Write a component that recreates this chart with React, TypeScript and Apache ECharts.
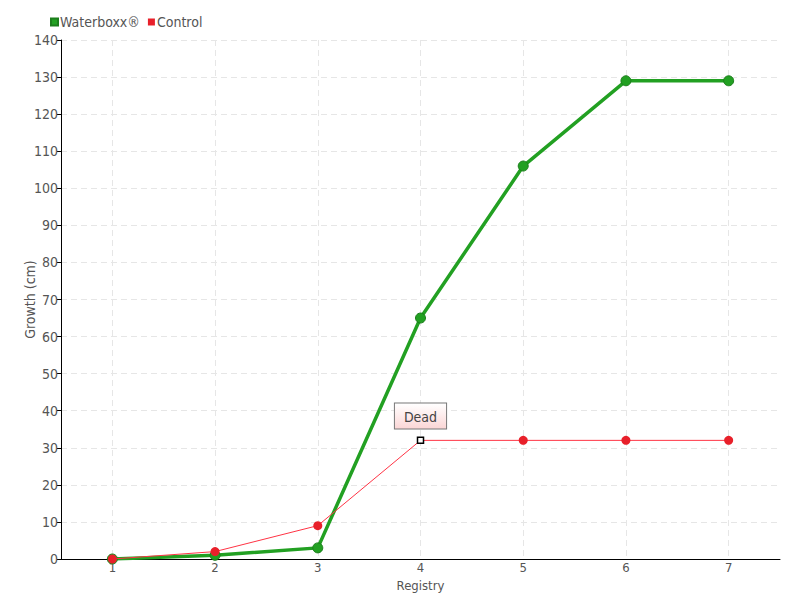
import React, { useEffect, useRef } from "react";
import * as echarts from "echarts";

const categories = ["1", "2", "3", "4", "5", "6", "7"];
const waterboxx = [0, 1, 3, 65, 106, 129, 129];
const control = [0, 2, 9, 32, 32, 32, 32];
const deadIndex = 3;
const deadLabel = "Dead";

const FONT = "'DejaVu Sans Condensed', 'Roboto', sans-serif";

export default function App() {
  const ref = useRef<HTMLDivElement>(null);
  useEffect(() => {
    const chart = echarts.init(ref.current!, null, { renderer: "svg" });
    chart.setOption({
      animation: false,
      backgroundColor: "#fff",
      textStyle: { fontFamily: FONT },
      legend: {
        left: 45,
        top: 10,
        icon: "rect",
        itemWidth: 7,
        itemHeight: 7,
        itemGap: 8,
        textStyle: { fontFamily: FONT, fontSize: 14, color: "#555", padding: [0, 0, 0, -3] },
        data: ["Waterboxx®", "Control"],
      },
      grid: { left: 61, right: 20, top: 40, bottom: 41 },
      xAxis: {
        type: "category",
        data: categories,
        boundaryGap: true,
        name: "Registry",
        nameLocation: "middle",
        nameGap: 20,
        nameMoveOverlap: false,
        nameTextStyle: { fontFamily: FONT, fontSize: 13, color: "#555", lineHeight: 13 },
        axisLine: { lineStyle: { color: "#000" } },
        axisTick: { alignWithLabel: true, inside: true, length: 4, lineStyle: { color: "#000" } },
        axisLabel: { fontFamily: FONT, fontSize: 13, color: "#555", margin: 2, lineHeight: 13 },
        splitLine: {
          show: true,
          alignWithLabel: true,
          lineStyle: { color: "#e6e6e6", type: [6, 4], width: 1 },
        },
      },
      yAxis: {
        type: "value",
        min: 0,
        max: 140,
        interval: 10,
        name: "Growth (cm)",
        nameLocation: "middle",
        nameGap: 24,
        nameMoveOverlap: false,
        nameTextStyle: { fontFamily: FONT, fontSize: 14, color: "#555" },
        axisLine: { show: true, lineStyle: { color: "#000" } },
        axisTick: { show: true, length: 4, lineStyle: { color: "#000" } },
        axisLabel: { fontFamily: FONT, fontSize: 14, color: "#555", margin: 3 },
        splitLine: { lineStyle: { color: "#e6e6e6", type: [6, 4], width: 1 } },
      },
      series: [
        {
          name: "Waterboxx®",
          type: "line",
          data: waterboxx,
          color: "#22a022",
          symbol: "circle",
          symbolSize: 10,
          lineStyle: { width: 3.5, color: "#22a022" },
          itemStyle: { color: "#22a022", borderColor: "#1c7e1c", borderWidth: 1 },
          z: 2,
        },
        {
          name: "Control",
          type: "line",
          data: control.map((v, i) =>
            i === deadIndex
              ? {
                  value: v,
                  symbol: "rect",
                  symbolSize: 6,
                  itemStyle: { color: "#fff", borderColor: "#000", borderWidth: 1.5 },
                  label: {
                    show: true,
                    position: "top",
                    distance: 8,
                    formatter: deadLabel,
                    fontFamily: FONT,
                    fontSize: 14,
                    color: "#444",
                    padding: [6, 9, 5, 9],
                    borderColor: "#777",
                    borderWidth: 1,
                    backgroundColor: {
                      type: "linear",
                      x: 0,
                      y: 0,
                      x2: 0,
                      y2: 1,
                      colorStops: [
                        { offset: 0, color: "#ffffff" },
                        { offset: 1, color: "#fbd6d6" },
                      ],
                    },
                  },
                }
              : v
          ),
          color: "#e8202a",
          symbol: "circle",
          symbolSize: 9,
          lineStyle: { width: 1, color: "#ff3344" },
          itemStyle: { color: "#e8202a" },
          z: 3,
        },
      ],
    });
    return () => chart.dispose();
  }, []);
  return <div ref={ref} style={{ width: 800, height: 600, position: "absolute", left: 0, top: 0 }} />;
}
